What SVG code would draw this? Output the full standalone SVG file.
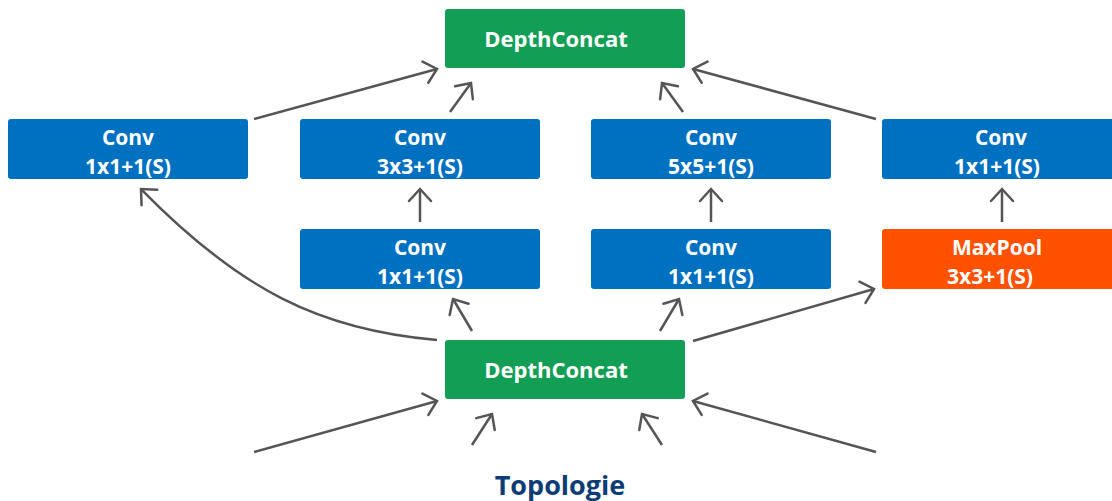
<svg xmlns="http://www.w3.org/2000/svg" width="1112" height="501" viewBox="0 0 1112 501">
<style>
.blue{fill:#0070C0}
.green{fill:#139E55}
.orange{fill:#FF5100}
.t{font-family:"Open Sans","Liberation Sans",sans-serif;font-weight:bold;font-size:21px;fill:#fff;text-anchor:middle}
.dc{font-size:22px}
.title{font-family:"Open Sans","Liberation Sans",sans-serif;font-weight:bold;font-size:27px;fill:#0E3C75;text-anchor:middle}
.c{fill:none;stroke:#555;stroke-width:2.5;marker-end:url(#ah)}
</style>
<defs>
<marker id="ah" markerUnits="userSpaceOnUse" markerWidth="30" markerHeight="30" refX="0" refY="0" viewBox="-15 -15 30 30" orient="auto" overflow="visible">
<path d="M-12,-11 L0,0 L-12,11" fill="none" stroke="#555" stroke-width="2.5" stroke-linecap="round" stroke-linejoin="miter"/>
</marker>
</defs>
<rect width="1112" height="501" fill="#fff"/>
<g id="connectors">
<path class="c" d="M254,119 L437,69"/>
<path class="c" d="M450,112 L471,83"/>
<path class="c" d="M683,112 L662,83"/>
<path class="c" d="M876,119 L693,69"/>
<path class="c" d="M420,222 L420,189"/>
<path class="c" d="M711,222 L711,189"/>
<path class="c" d="M1002,222 L1002,189"/>
<path class="c" d="M437,340 C320,330 240,290 141,189"/>
<path class="c" d="M472,331 L453,299"/>
<path class="c" d="M660,331 L679,299"/>
<path class="c" d="M693,341 L874,289"/>
<path class="c" d="M254,452 L437,401"/>
<path class="c" d="M472,445 L492,414"/>
<path class="c" d="M662,445 L642,414"/>
<path class="c" d="M876,452 L693,401"/>
</g>
<g id="dc_top"><rect class="green" x="445" y="9" width="240" height="59" rx="3"/><text class="t dc" x="556" y="47">DepthConcat</text></g>
<g id="conv_a"><rect class="blue" x="8" y="119" width="240" height="60" rx="3"/><text class="t" x="128" y="145">Conv</text><text class="t" x="128" y="174">1x1+1(S)</text></g>
<g id="conv_b"><rect class="blue" x="300" y="119" width="240" height="60" rx="3"/><text class="t" x="420" y="145">Conv</text><text class="t" x="420" y="174">3x3+1(S)</text></g>
<g id="conv_c"><rect class="blue" x="591" y="119" width="240" height="60" rx="3"/><text class="t" x="711" y="145">Conv</text><text class="t" x="711" y="174">5x5+1(S)</text></g>
<g id="conv_d"><rect class="blue" x="882" y="119" width="240" height="60" rx="3"/><text class="t" x="1001" y="145">Conv</text><text class="t" x="997" y="174">1x1+1(S)</text></g>
<g id="conv_e"><rect class="blue" x="300" y="229" width="240" height="60" rx="3"/><text class="t" x="420" y="255">Conv</text><text class="t" x="420" y="284">1x1+1(S)</text></g>
<g id="conv_f"><rect class="blue" x="591" y="229" width="240" height="60" rx="3"/><text class="t" x="711" y="255">Conv</text><text class="t" x="711" y="284">1x1+1(S)</text></g>
<g id="maxpool"><rect class="orange" x="882" y="229" width="240" height="60" rx="3"/><text class="t" x="997" y="255">MaxPool</text><text class="t" x="990" y="284">3x3+1(S)</text></g>
<g id="dc_bottom"><rect class="green" x="445" y="340" width="240" height="59" rx="3"/><text class="t dc" x="556" y="378">DepthConcat</text></g>
<text class="title" x="560" y="495">Topologie</text>
</svg>
